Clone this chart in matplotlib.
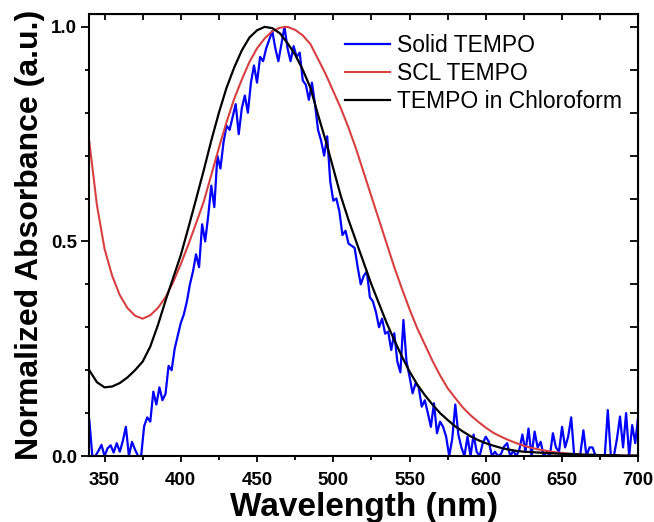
import numpy as np
import matplotlib
matplotlib.use('Agg')
import matplotlib.pyplot as plt
from matplotlib.ticker import MultipleLocator

plt.rcParams['font.family'] = ['Liberation Sans', 'DejaVu Sans']

# smooth spectra, read every 5 nm
wl_smooth = np.arange(340, 701, 5)
scl_tempo = [0.733, 0.585, 0.483, 0.420, 0.375, 0.345, 0.327, 0.320, 0.328, 0.345,
             0.370, 0.405, 0.447, 0.493, 0.542, 0.592, 0.655, 0.718, 0.778, 0.832,
             0.877, 0.918, 0.950, 0.973, 0.990, 0.998, 1.000, 0.993, 0.980, 0.960,
             0.925, 0.890, 0.850, 0.810, 0.765, 0.715, 0.660, 0.605, 0.550, 0.495,
             0.440, 0.390, 0.342, 0.298, 0.260, 0.222, 0.188, 0.158, 0.135, 0.113,
             0.095, 0.080, 0.066, 0.054, 0.045, 0.037, 0.030, 0.024, 0.019, 0.015,
             0.012, 0.009, 0.007, 0.005, 0.004, 0.003, 0.002, 0.002, 0.001, 0.001,
             0.001, 0.001, 0.001]
tempo_chcl3 = [0.200, 0.172, 0.160, 0.162, 0.170, 0.183, 0.200, 0.220, 0.255, 0.305,
               0.362, 0.415, 0.468, 0.532, 0.598, 0.665, 0.735, 0.800, 0.858, 0.905,
               0.945, 0.975, 0.992, 1.000, 0.997, 0.985, 0.962, 0.935, 0.900, 0.858,
               0.795, 0.735, 0.670, 0.605, 0.550, 0.500, 0.450, 0.400, 0.355, 0.310,
               0.270, 0.232, 0.197, 0.167, 0.142, 0.120, 0.100, 0.084, 0.069, 0.057,
               0.046, 0.037, 0.030, 0.024, 0.019, 0.015, 0.012, 0.010, 0.009, 0.008,
               0.007, 0.006, 0.005, 0.005, 0.004, 0.003, 0.003, 0.002, 0.002, 0.002,
               0.001, 0.001, 0.001]

# noisy solid-state spectrum, read every 2 nm
wl_solid = np.arange(340, 701, 2)
solid_tempo = [0.085, 0.0, 0.0, 0.012, 0.026, 0.0, 0.018, 0.025, 0.008, 0.030,
               0.010, 0.035, 0.068, 0.0, 0.033, 0.015, 0.0, 0.0, 0.070, 0.090,
               0.080, 0.150, 0.120, 0.160, 0.130, 0.145, 0.210, 0.200, 0.250, 0.280,
               0.310, 0.330, 0.360, 0.400, 0.430, 0.470, 0.440, 0.540, 0.500, 0.560,
               0.630, 0.580, 0.700, 0.670, 0.730, 0.770, 0.760, 0.790, 0.820, 0.750,
               0.810, 0.840, 0.800, 0.870, 0.910, 0.870, 0.930, 0.920, 0.950, 0.970,
               0.990, 0.950, 0.920, 0.960, 1.000, 0.950, 0.920, 0.955, 0.930, 0.940,
               0.875, 0.865, 0.830, 0.870, 0.820, 0.760, 0.735, 0.700, 0.745, 0.640,
               0.595, 0.600, 0.570, 0.515, 0.525, 0.495, 0.490, 0.485, 0.440, 0.400,
               0.420, 0.430, 0.370, 0.360, 0.335, 0.300, 0.320, 0.285, 0.290, 0.247,
               0.286, 0.220, 0.195, 0.317, 0.220, 0.185, 0.146, 0.170, 0.160, 0.115,
               0.130, 0.100, 0.068, 0.123, 0.053, 0.080, 0.068, 0.045, 0.0, 0.040,
               0.120, 0.050, 0.020, 0.0, 0.045, 0.0, 0.050, 0.010, 0.0, 0.030,
               0.045, 0.033, 0.0, 0.010, 0.0, 0.005, 0.022, 0.030, 0.0, 0.012,
               0.0, 0.015, 0.050, 0.010, 0.064, 0.0, 0.057, 0.020, 0.033, 0.0,
               0.010, 0.0, 0.053, 0.020, 0.010, 0.068, 0.020, 0.045, 0.090, 0.0,
               0.0, 0.005, 0.060, 0.0, 0.020, 0.020, 0.0, 0.0, 0.0, 0.0,
               0.107, 0.0, 0.0, 0.040, 0.092, 0.020, 0.100, 0.0, 0.072, 0.030,
               0.095]

fig = plt.figure(figsize=(6.54, 5.22), dpi=100)
ax = fig.add_axes([0.1365, 0.1264, 0.8395, 0.8468])

ax.plot(wl_solid, solid_tempo, color='#0000ff', lw=1.6, label='Solid TEMPO')
ax.plot(wl_smooth, scl_tempo, color='#d84040', lw=1.5, label='SCL TEMPO')
ax.plot(wl_smooth, tempo_chcl3, color='black', lw=1.6, label='TEMPO in Chloroform')

ax.set_xlim(340, 700)
ax.set_ylim(0, 1.03)
ax.xaxis.set_major_locator(MultipleLocator(50))
ax.xaxis.set_minor_locator(MultipleLocator(25))
ax.yaxis.set_major_locator(MultipleLocator(0.5))
ax.yaxis.set_minor_locator(MultipleLocator(0.1))
ax.yaxis.set_major_formatter(plt.FormatStrFormatter('%.1f'))

for s in ax.spines.values():
    s.set_linewidth(1.5)
ax.tick_params(which='both', direction='out', width=1.3, top=False, right=False)
ax.tick_params(axis='x', which='major', length=4.5, pad=7, labelsize=13.5)
ax.tick_params(axis='x', which='minor', length=3)
ax.tick_params(axis='y', which='major', length=6, pad=3, labelsize=13.5)
ax.tick_params(axis='y', which='minor', length=3)
for lab in ax.get_xticklabels() + ax.get_yticklabels():
    lab.set_fontweight('bold')

# inward ticks on top and right, like the original
axt = ax.secondary_xaxis('top')
axt.xaxis.set_major_locator(MultipleLocator(25))
axt.tick_params(direction='in', length=4, width=1.3, labeltop=False)
axr = ax.secondary_yaxis('right')
axr.yaxis.set_major_locator(MultipleLocator(0.1))
axr.tick_params(direction='in', length=6, width=1.3, labelright=False)

ax.set_xlabel('Wavelength (nm)', fontsize=24, fontweight='bold', labelpad=2)
ax.set_ylabel('Normalized Absorbance (a.u.)', fontsize=23, fontweight='bold', labelpad=4)

ax.legend(loc='upper right', bbox_to_anchor=(0.996, 0.985), frameon=False, fontsize=16.5,
          handlelength=2.0, labelspacing=0.22, handletextpad=0.3, borderaxespad=0.2)

fig.savefig('out.png', dpi=100)
